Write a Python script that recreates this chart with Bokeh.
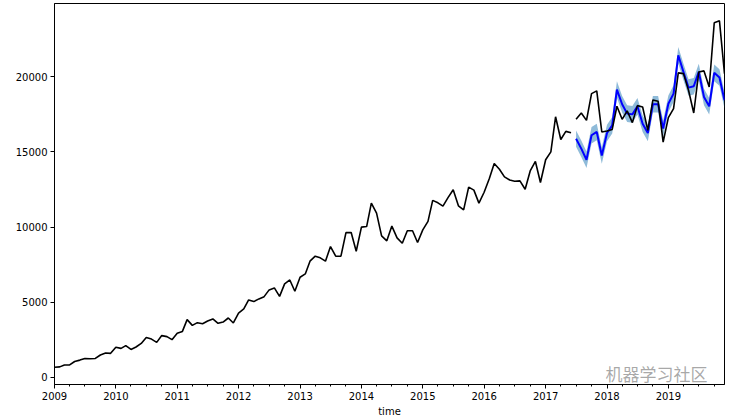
import pandas as pd
from bokeh.plotting import figure
from bokeh.models import FixedTicker, DatetimeTickFormatter, Range1d, Label, ColumnDataSource
from bokeh.embed import file_html
from bokeh.resources import INLINE

# ---- data ----
train_start = "2009-01-01"
test_start = "2017-07-01"

train_values = [680, 700, 830, 830, 1060, 1150, 1260, 1240, 1260, 1490, 1620, 1600,
                2000, 1930, 2110, 1860, 2020, 2260, 2660, 2550, 2330, 2780, 2710, 2510,
                2930, 3060, 3840, 3460, 3640, 3570, 3750, 3890, 3600, 3680, 3950, 3620,
                4280, 4550, 5150, 5040, 5220, 5370, 5820, 5950, 5390, 6220, 6480, 5730,
                6660, 6880, 7730, 8060, 7950, 7730, 8700, 8060, 8060, 9630, 9630, 8390,
                9990, 10030, 11590, 10920, 9410, 9080, 10060, 9280, 8920, 9750, 9750, 8970,
                9810, 10370, 11770, 11610, 11390, 11970, 12480, 11410, 11140, 12650, 12450, 11590,
                12310, 13220, 14220, 13840, 13330, 13130, 13040, 13070, 12510, 13730, 14360, 12960,
                14470, 15000, 17330, 15820, 16360, 16270]

test_values = [17160, 17580, 17090, 18870, 19050, 16320,
               16380, 16490, 18030, 17160, 17720, 16940, 18070, 17980, 16430, 18450, 18360, 15650,
               17270, 17870, 20250, 20200, 19090, 17580, 20310, 20380, 19310, 23580, 23710, 20200]

forecast_values = [15870, 15210, 14470, 16100, 16320, 14760,
                   16250, 16760, 19140, 18160, 17540, 17490, 18030, 16870, 16250, 18160, 18160, 16540,
                   18200, 18870, 21420, 20310, 19270, 19360, 20310, 18650, 18030, 20250, 19940, 18430]

forecast_lower = [15330, 14660, 13920, 15550, 15770, 14210,
                  15700, 16210, 18590, 17610, 16990, 16940, 17480, 16320, 15700, 17610, 17610, 15990,
                  17650, 18320, 20870, 19760, 18720, 18810, 19760, 18100, 17480, 19700, 19390, 17880]

forecast_upper = [16420, 15760, 15020, 16650, 16870, 15310,
                  16800, 17310, 19690, 18710, 18090, 18040, 18580, 17420, 16800, 18710, 18710, 17090,
                  18750, 19420, 21970, 20860, 19820, 19910, 20860, 19200, 18580, 20800, 20490, 18980]

year_ticks = list(range(2009, 2020))
x_label = "time"
watermark = "机器学习社区"

# ---- build ----
train_dates = pd.date_range(train_start, periods=len(train_values), freq="MS")
test_dates = pd.date_range(test_start, periods=len(test_values), freq="MS")

def ms(ts):
    return pd.Timestamp(ts).value // 10**6

all_vals = train_values + test_values + forecast_lower + forecast_upper
vmin, vmax = min(all_vals), max(all_vals)
pad = 0.05 * (vmax - vmin)

p = figure(width=733, height=420, x_axis_type="datetime", output_backend="svg",
           toolbar_location=None,
           x_range=Range1d(train_dates[0], test_dates[-1]),
           y_range=Range1d(vmin - pad, vmax + pad),
           min_border_left=54, min_border_right=9, min_border_top=3, min_border_bottom=36)

p.grid.visible = False
p.outline_line_color = "black"
p.outline_line_width = 1
p.background_fill_color = "white"
p.border_fill_color = "white"

src_test = ColumnDataSource(dict(x=test_dates, y=test_values, f=forecast_values,
                                 lo=forecast_lower, hi=forecast_upper))
src_train = ColumnDataSource(dict(x=train_dates, y=train_values))

p.varea(x="x", y1="lo", y2="hi", source=src_test, fill_color="#1f77b4", fill_alpha=0.5)
p.line(x="x", y="f", source=src_test, line_color="#0000ff", line_width=2)
p.line(x="x", y="y", source=src_train, line_color="black", line_width=1.6)
p.line(x="x", y="y", source=src_test, line_color="black", line_width=1.6)

major = [ms(f"{y}-01-01") for y in year_ticks]
minor = [ms(d) for d in pd.date_range("2009-01-01", "2019-12-31", freq="QS") if d.month != 1]
p.xaxis.ticker = FixedTicker(ticks=major, minor_ticks=minor)
p.xaxis.formatter = DatetimeTickFormatter(years="%Y", months="%Y", days="%Y", hours="%Y",
                                          minutes="%Y", seconds="%Y", milliseconds="%Y",
                                          microseconds="%Y", minsec="%Y", hourmin="%Y")
p.yaxis.ticker = FixedTicker(ticks=[0, 5000, 10000, 15000, 20000])

for ax in (p.xaxis[0], p.yaxis[0]):
    ax.axis_line_color = "black"
    ax.major_tick_line_color = "black"
    ax.minor_tick_line_color = "black"
    ax.major_tick_in = 0
    ax.major_tick_out = 4
    ax.minor_tick_in = 0
    ax.minor_tick_out = 2
    ax.major_label_text_font = "DejaVu Sans"
    ax.major_label_text_font_size = "10px"
    ax.major_label_text_color = "black"
    ax.major_label_standoff = 3
p.yaxis.minor_tick_line_color = None

p.xaxis.axis_label = x_label
p.xaxis.axis_label_text_font = "DejaVu Sans"
p.xaxis.axis_label_text_font_size = "10px"
p.xaxis.axis_label_text_font_style = "normal"
p.xaxis.axis_label_text_color = "black"
p.xaxis.axis_label_standoff = 3

wm = Label(x=551, y=11, x_units="screen", y_units="screen", text=watermark,
           text_font="Noto Sans CJK SC",
           text_font_size="17px", text_color="#8c8c8c", text_alpha=0.75,
           text_baseline="middle", text_align="left")
p.add_layout(wm)

open("out.html", "w").write(file_html(p, INLINE))
